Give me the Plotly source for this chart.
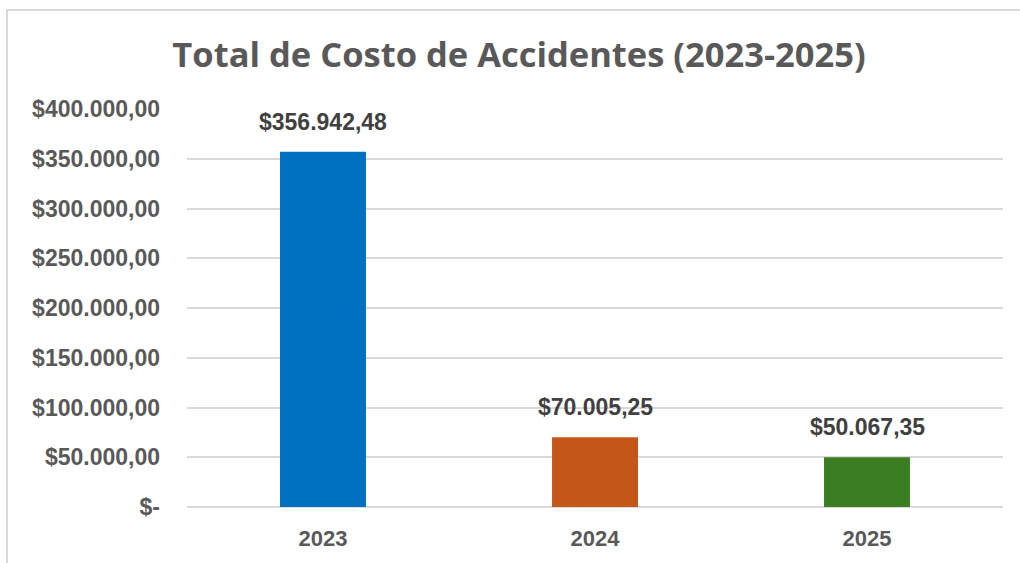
import plotly.graph_objects as go

years = ["2023", "2024", "2025"]
costs = [356942.48, 70005.25, 50067.35]
bar_colors = ["#0070C0", "#C4561A", "#3B7D23"]
tick_vals = [0, 50000, 100000, 150000, 200000, 250000, 300000, 350000, 400000]
tick_text = ["$-", "$50.000,00", "$100.000,00", "$150.000,00", "$200.000,00",
             "$250.000,00", "$300.000,00", "$350.000,00", "$400.000,00"]

L, R, T, B = 187, 17, 109, 56
W, H = 1020, 563
pw, ph = W - L - R, H - T - B


def fmt(v):
    s = format(v, ",.2f")
    return "$" + s.replace(",", "X").replace(".", ",").replace("X", ".")


fig = go.Figure()
fig.add_trace(go.Bar(x=years, y=costs, marker=dict(color=bar_colors, line=dict(width=0)),
                     width=0.316, hoverinfo="skip"))

for i, v in enumerate(costs):
    fig.add_annotation(x=i, y=v, text=f"<b>{fmt(v)}</b>",
                       showarrow=False, yanchor="bottom", yshift=15,
                       font=dict(family="Liberation Sans, Arial", size=23, color="#404040"))

# outer frame (light gray)
fig.add_shape(type="rect", xref="paper", yref="paper",
              x0=(7 - L) / pw, x1=(W + 20 - L) / pw,
              y0=-(B + 20) / ph, y1=(H - B - 10) / ph,
              line=dict(color="#D9D9D9", width=2), fillcolor="rgba(0,0,0,0)", layer="below")

fig.update_layout(
    width=W, height=H,
    margin=dict(l=L, r=R, t=T, b=B),
    paper_bgcolor="white", plot_bgcolor="white",
    separators=",.",
    showlegend=False,
    title=dict(text="<b>Total de Costo de Accidentes (2023-2025)</b>", x=519 / W, xanchor="center",
               y=1 - 55 / H, yanchor="middle",
               font=dict(family="Open Sans, Lato, sans-serif", size=34.5, color="#595959")),
    xaxis=dict(type="category", range=[-0.5, 2.5], showgrid=False, showline=False, zeroline=False,
               ticks="",
               tickfont=dict(family="Liberation Sans, Arial", size=22, color="#595959", weight="bold"),
               ticklabelstandoff=16),
    yaxis=dict(range=[0, 400000], tickvals=tick_vals, ticktext=tick_text,
               showgrid=True, gridcolor="#D9D9D9", gridwidth=1.5,
               zeroline=True, zerolinecolor="#D9D9D9", zerolinewidth=1.5,
               showline=False, ticks="",
               tickfont=dict(family="Liberation Sans, Arial", size=23, color="#595959", weight="bold"),
               ticklabelstandoff=26),
)

fig.write_html("out.html")
